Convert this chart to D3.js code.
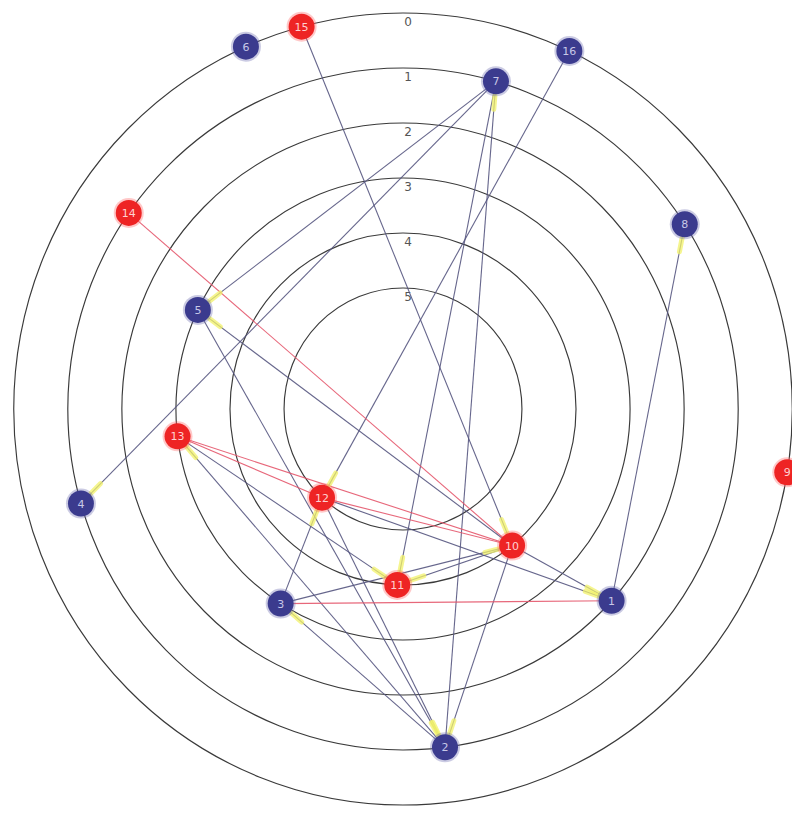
<!DOCTYPE html>
<html><head><meta charset="utf-8">
<script src="https://cdn.jsdelivr.net/npm/d3@7"></script>
<style>body{margin:0;background:#fff}svg{display:block}</style>
</head><body>
<script>
// ---- data ----
const levels = [0, 1, 2, 3, 4, 5];
const nodeIds    = [1, 2, 3, 4, 5, 6, 7, 8, 9, 10, 11, 12, 13, 14, 15, 16];
const nodeLevel  = [2, 1, 3, 1, 3, 0, 1, 1, 0, 4, 4, 5, 3, 1, 0, 0];
const nodeAngle  = [132.1, 172.8, 212.6, 253.9, 295.4, 336.2, 16.1, 57.2, 99.2, 140.9, 181.9, 222.9, 263.2, 305.1, 344.9, 25.3];
const nodeGroup  = ["b","b","b","b","b","b","b","b","r","r","r","r","r","r","r","b"];
const edgeSource = [15, 16, 7, 7, 7, 2, 1, 10, 5, 2, 12, 10, 2, 3, 13, 10, 12, 10, 3, 14, 13, 13, 12, 1];
const edgeTarget = [10, 12, 5, 4, 11, 7, 8, 5, 2, 13, 2, 2, 3, 12, 11, 1, 1, 11, 10, 10, 12, 10, 10, 3];
const edgeKind   = ["g","g","g","g","g","g","g","g","g","g","g","g","g","g","g","g","g","g","g","r","r","r","r","r"];

const W = 792, H = 813, cx = 403, cy = 409, nodeR = 13, kx = 0.983;
const svg = d3.select("body").append("svg").attr("width", W).attr("height", H);

const rScale = d3.scaleLinear().domain([0, 5]).range([396, 121]);
const aScale = d3.scaleLinear().domain([0, 360]).range([0, 2 * Math.PI]);
const colorNode = d3.scaleOrdinal().domain(["b", "r"]).range(["#3b3b8e", "#ee2424"]);
const colorEdge = d3.scaleOrdinal().domain(["g", "r"]).range(["#55557f", "#e4566c"]);

const g = svg.append("g").attr("transform", `translate(${cx},${cy})`);

// rings
g.selectAll("ellipse.ring").data(levels).join("ellipse")
  .attr("class", "ring").attr("rx", d => rScale(d) * kx).attr("ry", d => rScale(d))
  .attr("fill", "none").attr("stroke", "#3a3a3a").attr("stroke-width", 1.15);

g.selectAll("text.lvl").data(levels).join("text")
  .attr("class", "lvl").attr("x", 5).attr("y", d => -rScale(d) + 13)
  .attr("text-anchor", "middle").attr("font-family", "DejaVu Sans, sans-serif")
  .attr("font-size", 12).attr("fill", "#555").text(d => d);

const nodes = nodeIds.map((id, i) => {
  const r = rScale(nodeLevel[i]), a = aScale(nodeAngle[i]);
  return { id, group: nodeGroup[i], x: r * kx * Math.sin(a), y: -r * Math.cos(a) };
});
const byId = new Map(nodes.map(n => [n.id, n]));
const edges = edgeSource.map((s, i) => ({ s: byId.get(s), t: byId.get(edgeTarget[i]), kind: edgeKind[i] }));

// edges
g.selectAll("line.edge").data(edges).join("line")
  .attr("class", "edge")
  .attr("x1", d => d.s.x).attr("y1", d => d.s.y)
  .attr("x2", d => d.t.x).attr("y2", d => d.t.y)
  .attr("stroke", d => colorEdge(d.kind)).attr("stroke-width", 1.1)
  .attr("stroke-opacity", 0.9);

// yellow arrow marks at target end
function along(d, dist) {
  const dx = d.s.x - d.t.x, dy = d.s.y - d.t.y, L = Math.hypot(dx, dy);
  return [d.t.x + dx / L * dist, d.t.y + dy / L * dist];
}
g.selectAll("line.arrow").data(edges.filter(d => d.kind === "g")).join("line")
  .attr("class", "arrow")
  .attr("x1", d => along(d, nodeR + 1)[0]).attr("y1", d => along(d, nodeR + 1)[1])
  .attr("x2", d => along(d, nodeR + 15)[0]).attr("y2", d => along(d, nodeR + 15)[1])
  .attr("stroke", "#f2f26a").attr("stroke-width", 5).attr("stroke-opacity", 0.75)
  .attr("stroke-linecap", "round");

// nodes
const ng = g.selectAll("g.node").data(nodes).join("g")
  .attr("class", "node").attr("transform", d => `translate(${d.x},${d.y})`);
ng.append("circle").attr("r", nodeR + 2)
  .attr("fill", d => d.group === "r" ? "#ff6060" : "#6a6ab0").attr("opacity", 0.35);
ng.append("circle").attr("r", nodeR).attr("fill", d => colorNode(d.group));
ng.append("text").attr("text-anchor", "middle").attr("dy", "0.36em")
  .attr("font-family", "DejaVu Sans, sans-serif").attr("font-size", 11)
  .attr("fill", d => d.group === "r" ? "#ffd0d0" : "#c8c8e8").text(d => d.id);
</script>
</body></html>
